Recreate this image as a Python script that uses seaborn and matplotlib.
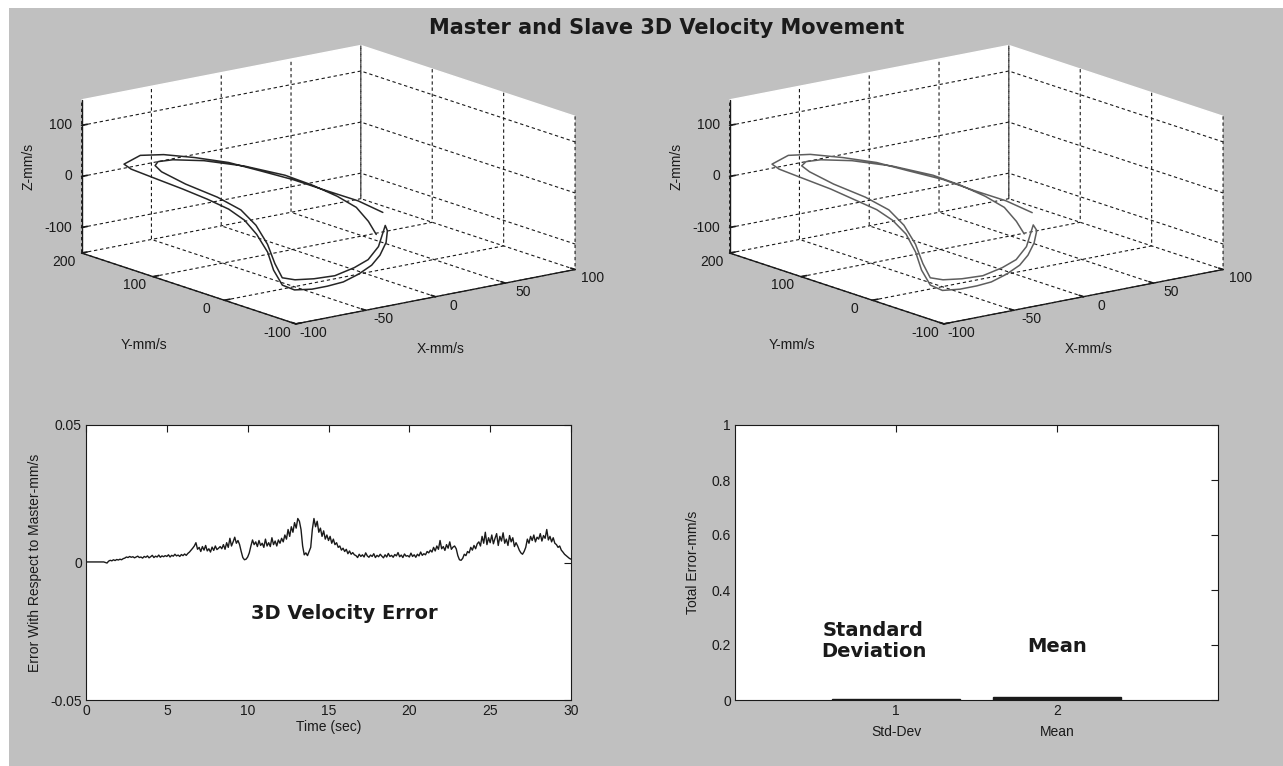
import matplotlib
matplotlib.use("Agg")
import matplotlib.pyplot as plt
import numpy as np
import seaborn as sns
from matplotlib.patches import Rectangle
from mpl_toolkits.mplot3d import proj3d

sns.set_theme(style="white")
plt.rcParams['font.family'] = ['Liberation Sans', 'DejaVu Sans']
plt.rcParams['axes3d.automargin'] = False
plt.rcParams['axes.unicode_minus'] = False
plt.rcParams['text.color'] = 'k'
plt.rcParams['axes.labelcolor'] = 'k'

# master 3D velocity trajectory (mm/s)
master_x = [16, 6, -9, -25, -41, -53, -65, -75, -81, -85, -83, -77, -66, -59, -56, -57, -59, -65, -73, -79,
            -78, -67, -56, -43, -29, -15, -6, 3, 7, 7, -4, -16, -29, -46, -61, -73, -76, -69, -62, -58,
            -55, -58, -67, -75, -75, -76, -73, -63, -48, -31, -19, -9, -3, -2, -1]
master_y = [5, 20, 35, 50, 65, 86, 110, 134, 155, 170, 164, 146, 125, 104, 80, 56, 35, 8, -16, -40,
            -55, -58, -58, -55, -49, -40, -34, -25, -19, -16, -28, -37, -43, -49, -49, -46, -34, -10, 14, 38,
            65, 92, 119, 137, 146, 140, 125, 101, 74, 50, 35, 20, 5, -10, -19]
master_z = [-42, -21, 0, 23, 42, 55, 60, 60, 52, 30, 22, 11, -8, -22, -32, -42, -59, -78, -98, -113,
            -116, -119, -119, -119, -114, -108, -96, -80, -62, -53, -83, -98, -104, -108, -106, -103, -103, -90, -67, -43,
            -27, -13, 5, 25, 33, 44, 53, 57, 51, 35, 16, -4, -22, -43, -65]

# slave 3D velocity trajectory (mm/s)
slave_x = [17, 6, -9, -24, -41, -53, -65, -76, -81, -85, -83, -77, -66, -60, -56, -57, -58, -65, -73, -79,
           -78, -67, -55, -43, -29, -15, -6, 3, 8, 7, -4, -16, -29, -46, -61, -73, -76, -69, -62, -58,
           -55, -58, -67, -75, -76, -76, -73, -63, -48, -31, -19, -9, -3, -2, -1]
slave_y = [5, 20, 35, 50, 66, 86, 110, 134, 155, 170, 164, 146, 125, 104, 80, 56, 35, 8, -16, -40,
           -55, -58, -58, -55, -49, -40, -34, -25, -19, -16, -28, -37, -43, -49, -49, -46, -34, -10, 14, 38,
           65, 92, 119, 137, 146, 140, 125, 101, 74, 50, 35, 20, 5, -10, -19]
slave_z = [-43, -21, 0, 23, 42, 55, 60, 61, 52, 30, 22, 11, -8, -22, -33, -42, -59, -78, -98, -113,
           -117, -119, -119, -119, -114, -108, -96, -81, -62, -52, -83, -98, -104, -108, -106, -103, -103, -90, -67, -43,
           -27, -13, 5, 25, 33, 44, 53, 57, 51, 35, 16, -4, -22, -43, -64]

x_ticks3d = [-100, -50, 0, 50, 100]
y_ticks3d = [-100, 0, 100, 200]
z_ticks3d = [-100, 0, 100]

# 3D velocity error, sampled every 0.1 s, in units of 1e-4 mm/s
error_1e4 = [2, 2, 2, 2, 2, 2, 2, 2, 2, 2, 2, 2,
             0, -2, 5,
             8, 6, 10, 7, 11, 9, 12, 10, 14,
             16, 20, 18, 22, 19, 21, 17, 20, 23, 18,
             20, 16, 22, 19, 24, 17, 21, 26, 18, 23, 20, 27, 19, 24, 21,
             25, 22, 28, 20, 26, 23, 30, 24, 27, 22, 29, 25, 31, 26, 33,
             38, 45, 52, 60, 72,
             48, 55, 40, 58, 45, 62, 42, 50, 38, 56, 44, 60, 47, 52, 58,
             50, 65, 48, 72, 55, 88, 60, 75, 92, 70,
             80, 65, 40,
             18, 10, 12, 20, 35,
             60, 82, 65, 75, 58, 80, 62, 70, 55, 85, 60, 72, 58, 90, 65, 78, 60, 82, 70, 88,
             75, 100, 85, 120, 95, 130, 110, 145, 125, 160, 150,
             120, 60, 28, 35, 25, 40, 55,
             120, 160, 130, 150,
             110, 125, 95, 115, 85, 100,
             80, 95, 70, 85, 65, 72, 55, 60, 45, 52,
             40, 48, 32, 42, 30, 36, 28,
             25, 18, 30, 22, 28, 20, 35, 24, 19, 27, 22, 32, 18, 26, 21, 30, 23, 17, 28, 20,
             33, 22, 26, 19, 29, 24, 36, 21, 27, 18, 31, 23, 25, 20, 34, 22, 28, 19, 30, 24,
             38, 26, 32, 28, 40, 35,
             45, 38, 55, 42, 60, 48, 80, 50, 58, 44, 65, 52, 75, 48, 56, 60, 50,
             25, 10, 8, 15,
             30, 25, 40, 35, 55, 45, 62, 50, 68,
             75, 60, 95, 70, 110, 65, 90, 72, 100, 68, 88, 105, 62, 95, 78, 108, 70, 85, 62, 98, 75, 90, 58, 72, 60,
             45, 35, 30, 40, 55,
             85, 70, 95, 80, 100, 75, 92, 85, 105, 78, 98, 88, 120, 82, 95, 75, 90, 70,
             65, 55, 60, 45, 38, 30, 25, 20, 15, 12]
sample_dt = 0.1

bar_pos = [1, 2]
bar_vals = [0.005, 0.011]
bar_ticklabels = ["1\nStd-Dev", "2\nMean"]

GRAY = "#c0c0c0"
W, H = 1283, 766

fig = plt.figure(figsize=(W / 100, H / 100), dpi=100, facecolor="white")
fig.add_artist(Rectangle((9 / W, 0), 1 - 9 / W, (H - 8) / H, transform=fig.transFigure,
                         facecolor=GRAY, edgecolor="none", zorder=-10))


def text3d(ax, x, y, z, s, **kw):
    # project a 3D anchor point and put a plain 2D text there
    px, py, _ = proj3d.proj_transform(x, y, z, ax.get_proj())
    ax.text2D(px, py, s, transform=ax.transData, fontsize=10, **kw)


def traj_axes(left, xs, ys, zs, color):
    ax = fig.add_axes([left, 0.419, 507 / W, 507 / H], projection="3d")
    ax.set_facecolor((0, 0, 0, 0))
    ax.set_proj_type("ortho")
    ax.view_init(elev=14.7, azim=-127.5)
    ax.set_box_aspect((1, 1, 0.45))
    ax.plot(xs, ys, zs, color=color, lw=1.1)
    ax.set_xlim(-100, 100)
    ax.set_ylim(-100, 200)
    ax.set_zlim(-150, 150)
    ax.set_xticks(x_ticks3d)
    ax.set_yticks(y_ticks3d)
    ax.set_zticks(z_ticks3d)
    for axis in (ax.xaxis, ax.yaxis, ax.zaxis):
        axis.set_pane_color((1, 1, 1, 1))
        axis.pane.set_edgecolor("white")
        axis.line.set_color("k")
        axis.line.set_linewidth(1.0)
        axis._axinfo["grid"].update(color="k", linewidth=0.8, linestyle=(0, (3, 2.5)))
        axis._axinfo["tick"].update(inward_factor=0.0, outward_factor=0.25)
        axis.set_tick_params(colors="k", labelbottom=False, labeltop=False)
    # MATLAB-style tick labels, placed just outside the box edges
    for v in x_ticks3d:
        text3d(ax, v, -125, -156, str(v), ha="center", va="center")
    for v in y_ticks3d:
        text3d(ax, -113, v, -160, str(v), ha="center", va="center")
    for v in z_ticks3d:
        text3d(ax, -100, 213, v - 6, str(v), ha="right", va="center")
    text3d(ax, 0, -107, -249, "X-mm/s", ha="center", va="center")
    text3d(ax, -100, 112, -290, "Y-mm/s", ha="center", va="center")
    text3d(ax, -100, 275, -15, "Z-mm/s", ha="center", va="center", rotation=90)
    return ax


traj_axes(68 / W, master_x, master_y, master_z, "#262626")
traj_axes(716 / W, slave_x, slave_y, slave_z, "#5e5e5e")

fig.text(0.52, 1 - 28 / H, "Master and Slave 3D Velocity Movement", ha="center", va="center",
         fontsize=15, fontweight="bold", family="DejaVu Sans", color="k")


def matlab_box(ax):
    ax.set_facecolor("white")
    for s in ax.spines.values():
        s.set_color("k")
        s.set_linewidth(0.8)
        s.set_visible(True)
    ax.tick_params(direction="in", top=True, right=True, length=5, width=0.8,
                   colors="k", labelsize=10, pad=3)
    ax.grid(False)


# error time series
ax3 = fig.add_axes([86 / W, 66 / H, 485 / W, 275 / H])
t = np.arange(len(error_1e4)) * sample_dt
sns.lineplot(x=t, y=np.array(error_1e4) / 1e4, ax=ax3, color="k", lw=1.0, estimator=None)
ax3.set_xlim(0, 30)
ax3.set_ylim(-0.05, 0.05)
ax3.set_xticks([0, 5, 10, 15, 20, 25, 30])
ax3.set_yticks([-0.05, 0, 0.05])
ax3.set_yticklabels(["-0.05", "0", "0.05"])
ax3.set_xlabel("Time (sec)", fontsize=10, labelpad=1)
ax3.set_ylabel("Error With Respect to Master-mm/s", fontsize=10, labelpad=6)
ax3.text(16, -0.0185, "3D Velocity Error", ha="center", va="center", fontsize=14,
         fontweight="bold", family="DejaVu Sans", color="k")
matlab_box(ax3)

# total error bars
ax4 = fig.add_axes([735 / W, 66 / H, 483 / W, 275 / H])
sns.barplot(x=bar_pos, y=bar_vals, native_scale=True, color="k", saturation=1, width=0.8,
            edgecolor="k", linewidth=1.0, ax=ax4)
ax4.set_xlim(0, 3)
ax4.set_ylim(0, 1)
ax4.set_xticks(bar_pos)
ax4.set_xticklabels(bar_ticklabels, fontsize=10, linespacing=1.6)
ax4.set_yticks([0, 0.2, 0.4, 0.6, 0.8, 1])
ax4.set_yticklabels(["0", "0.2", "0.4", "0.6", "0.8", "1"])
ax4.set_xlabel("")
ax4.set_ylabel("Total Error-mm/s", fontsize=10, labelpad=8)
ax4.text(0.86, 0.215, "Standard\nDeviation", ha="center", va="center", fontsize=14,
         fontweight="bold", family="DejaVu Sans", color="k", linespacing=1.1)
ax4.text(2.0, 0.193, "Mean", ha="center", va="center", fontsize=14,
         fontweight="bold", family="DejaVu Sans", color="k")
matlab_box(ax4)

fig.savefig("out.png", dpi=100, facecolor=fig.get_facecolor())
